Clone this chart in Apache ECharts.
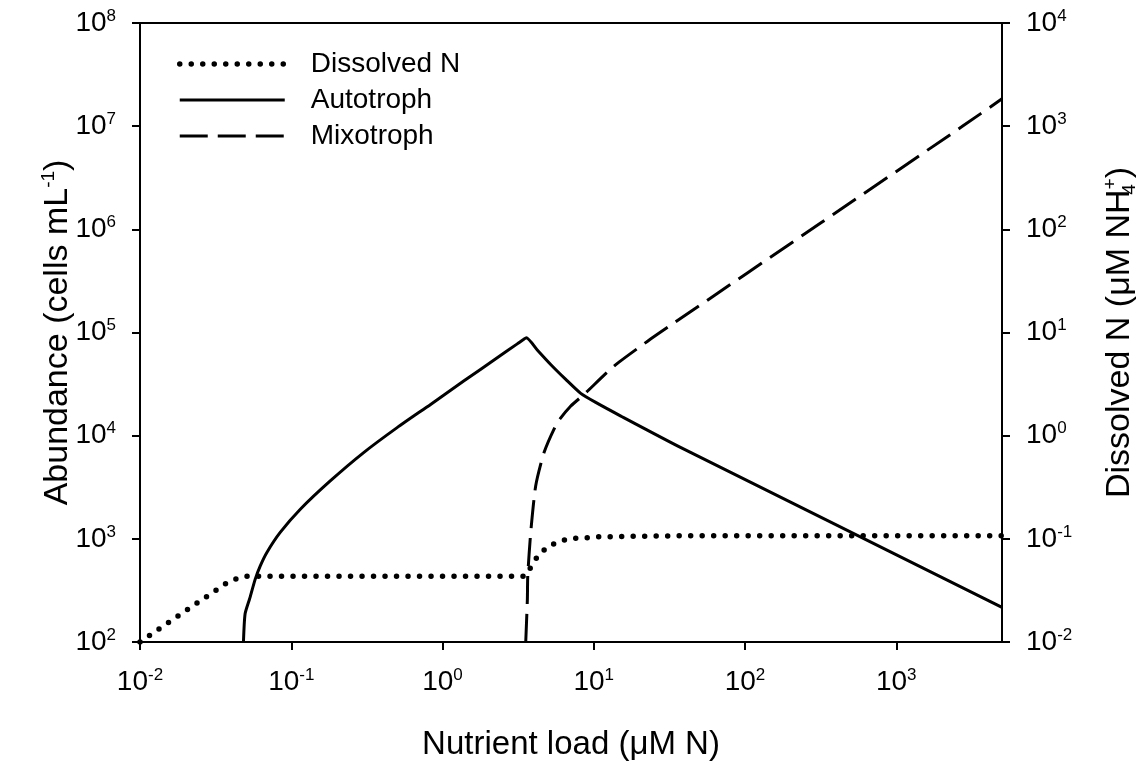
<!DOCTYPE html>
<html>
<head>
<meta charset="utf-8">
<script src="https://cdn.jsdelivr.net/npm/echarts@6/dist/echarts.min.js"></script>
<style>
  html, body { margin: 0; padding: 0; background: #fff; }
  #chart { width: 1148px; height: 766px; }
</style>
</head>
<body>
<div id="chart"></div>
<script>
// values (nutrient load, uM N)
var xTicks = [0.01, 0.1, 1, 10, 100, 1000];

var dissolvedX = [0.01, 0.02, 0.03, 0.037, 0.0411, 0.0491, 0.5, 3.37, 3.55, 3.83, 4.3, 5.06, 6.04, 7.14, 8.63, 10.3, 34.9, 5000];
var dissolvedY = [0.01, 0.02, 0.03, 0.037, 0.0401, 0.0433, 0.0433, 0.0433, 0.0440, 0.053, 0.0695, 0.0855, 0.0955, 0.101, 0.102, 0.1045, 0.107, 0.107];

var autoX = [0.0483, 0.0495, 0.053, 0.0578, 0.0624, 0.069, 0.0845, 0.1148, 0.181, 0.301, 0.501, 0.834, 1.38, 2.30, 3.12, 3.45, 3.58, 4.26, 5.19, 6.53, 8.2, 10.3, 15.1, 37.7, 5000];
var autoY = [100, 187, 261, 407, 547, 738, 1153, 1936, 3640, 6855, 11970, 20090, 33800, 56900, 77600, 86100, 88900, 67000, 49000, 35100, 25700, 21000, 15490, 7660, 217];

var mixoX = [3.55, 3.64, 3.66, 3.83, 4.13, 4.69, 5.74, 7.05, 8.63, 13.6, 22.7, 34.0, 316, 2690, 5000];
var mixoY = [100, 261, 438, 1153, 3260, 6855, 13370, 19360, 25120, 47200, 82400, 124000, 1150000, 9800000, 18400000];

function pairs(xs, ys) {
  return xs.map(function (x, i) { return [x, ys[i]]; });
}

var font = 'Liberation Sans, Arial, sans-serif';

function powLabel(value) {
  var e = Math.round(Math.log(value) / Math.LN10);
  return '{b|10}{s|' + e + '}';
}

var tickRich = {
  b: { fontSize: 28, fontFamily: font, color: '#000', lineHeight: 31 },
  s: { fontSize: 17, fontFamily: font, color: '#000', verticalAlign: 'top', lineHeight: 17 }
};

var nameRich = {
  a: { fontSize: 34, fontFamily: font, color: '#000', lineHeight: 38 },
  s: { fontSize: 19, fontFamily: font, color: '#000', verticalAlign: 'top', lineHeight: 19 },
  sub: { fontSize: 19, fontFamily: font, color: '#000', verticalAlign: 'bottom', lineHeight: 19, width: 0, align: 'left' }
};

var axisLine = { show: true, lineStyle: { color: '#000', width: 2 } };
var axisTick = { show: true, length: 8, lineStyle: { color: '#000', width: 2 } };

var chart = echarts.init(document.getElementById('chart'));
chart.setOption({
  animation: false,
  backgroundColor: '#fff',
  grid: {
    left: 140, right: 146, top: 23, bottom: 123,
    show: true, borderColor: '#000', borderWidth: 2
  },
  legend: {
    orient: 'vertical',
    left: 177, top: 50, padding: 0,
    itemWidth: 105, itemHeight: 14, itemGap: 8,
    itemStyle: { opacity: 0 },
    textStyle: { fontSize: 28, fontFamily: font, color: '#000', lineHeight: 27, padding: [0, 0, 0, 21] },
    data: [
      { name: 'Dissolved N', lineStyle: { width: 5.5, type: [0, 11.5], cap: 'round', color: '#000' } },
      { name: 'Autotroph', lineStyle: { width: 3, color: '#000' } },
      { name: 'Mixotroph', lineStyle: { width: 3, type: [28, 10], color: '#000' } }
    ]
  },
  xAxis: {
    type: 'log', logBase: 10, min: 0.01, max: 5000,
    name: 'Nutrient load (μM N)',
    nameLocation: 'middle', nameGap: 86, nameMoveOverlap: false,
    nameTextStyle: { fontSize: 33, fontFamily: font, color: '#000' },
    axisLine: axisLine,
    axisTick: { show: true, length: 8, lineStyle: { color: '#000', width: 2 }, customValues: xTicks },
    axisLabel: { margin: 25, formatter: powLabel, rich: tickRich, customValues: xTicks },
    splitLine: { show: false }
  },
  yAxis: [{
    type: 'log', logBase: 10, min: 100, max: 1e8,
    name: '{a|Abundance (cells mL}{s|-1}{a|)}',
    nameLocation: 'middle', nameRotate: 90, nameGap: 63, nameMoveOverlap: false,
    nameTextStyle: { rich: nameRich },
    axisLine: axisLine, axisTick: axisTick,
    axisLabel: { margin: 24, formatter: powLabel, rich: tickRich },
    splitLine: { show: false }
  }, {
    type: 'log', logBase: 10, min: 0.01, max: 1e4,
    position: 'right',
    name: '{a|Dissolved N (μM NH}{sub|4}{s|+}{a|)}',
    nameLocation: 'middle', nameRotate: 90, nameGap: 99, nameMoveOverlap: false,
    nameTextStyle: { rich: nameRich },
    axisLine: axisLine, axisTick: axisTick,
    axisLabel: { margin: 24, formatter: powLabel, rich: tickRich },
    splitLine: { show: false }
  }],
  series: [{
    name: 'Dissolved N', type: 'line', yAxisIndex: 1,
    symbol: 'none', color: '#000',
    lineStyle: { color: '#000', width: 5.5, type: [0, 11.5], cap: 'round' },
    data: pairs(dissolvedX, dissolvedY)
  }, {
    name: 'Autotroph', type: 'line', yAxisIndex: 0,
    symbol: 'none', color: '#000', smooth: 0.2,
    lineStyle: { color: '#000', width: 3, join: 'round' },
    data: pairs(autoX, autoY)
  }, {
    name: 'Mixotroph', type: 'line', yAxisIndex: 0,
    symbol: 'none', color: '#000', smooth: 0.2,
    lineStyle: { color: '#000', width: 3, type: [28, 10] },
    data: pairs(mixoX, mixoY)
  }]
});
</script>
</body>
</html>
